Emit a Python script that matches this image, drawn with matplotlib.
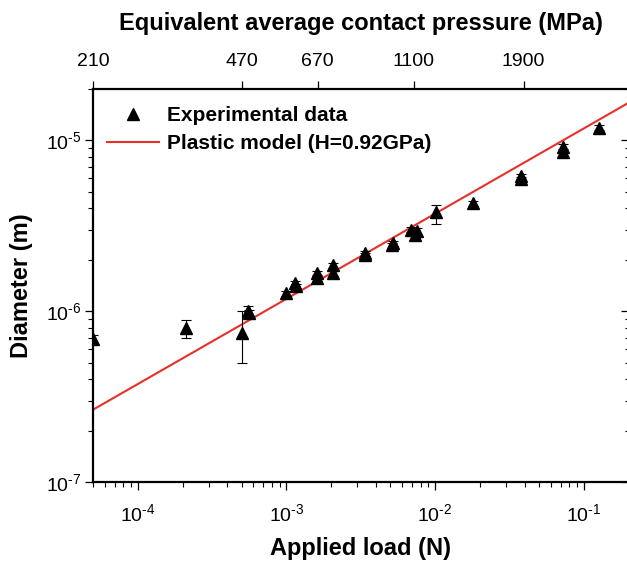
import matplotlib
matplotlib.use("Agg")
import matplotlib.pyplot as plt
from matplotlib.ticker import NullLocator, LogLocator, NullFormatter, FuncFormatter
import numpy as np

plt.rcParams['font.family'] = ['Liberation Sans', 'DejaVu Sans']
plt.rcParams['mathtext.fontset'] = 'custom'
plt.rcParams['mathtext.rm'] = 'Liberation Sans'
plt.rcParams['mathtext.it'] = 'Liberation Sans:italic'
plt.rcParams['mathtext.bf'] = 'Liberation Sans:bold'

load = [5.0e-5, 2.1e-4, 5.0e-4, 5.5e-4, 5.6e-4, 1.0e-3, 1.14e-3, 1.16e-3,
        1.6e-3, 1.6e-3, 2.05e-3, 2.05e-3, 3.37e-3, 3.4e-3, 5.1e-3, 5.2e-3,
        6.85e-3, 7.3e-3, 7.6e-3, 1.01e-2, 1.79e-2, 3.77e-2, 3.8e-2,
        7.2e-2, 7.3e-2, 0.126]
diam = [6.9e-7, 8.0e-7, 7.5e-7, 1.0e-6, 0.97e-6, 1.27e-6, 1.46e-6, 1.40e-6,
        1.67e-6, 1.56e-6, 1.86e-6, 1.67e-6, 2.12e-6, 2.18e-6, 2.43e-6, 2.5e-6,
        3.0e-6, 2.8e-6, 2.95e-6, 3.79e-6, 4.28e-6, 5.92e-6, 6.15e-6,
        8.5e-6, 9.1e-6, 1.19e-5]
err_lo = [0.4e-7, 1.05e-7, 2.5e-7, 0.06e-6, 0.04e-6, 0.05e-6, 0.05e-6, 0.05e-6,
          0.06e-6, 0.06e-6, 0.06e-6, 0.06e-6, 0.08e-6, 0.08e-6, 0.08e-6, 0.08e-6,
          0.1e-6, 0.1e-6, 0.1e-6, 0.57e-6, 0.15e-6, 0.2e-6, 0.2e-6,
          0.4e-6, 0.4e-6, 0.4e-6]
err_hi = [0.4e-7, 0.86e-7, 2.5e-7, 0.07e-6, 0.04e-6, 0.05e-6, 0.05e-6, 0.05e-6,
          0.06e-6, 0.06e-6, 0.06e-6, 0.06e-6, 0.08e-6, 0.08e-6, 0.08e-6, 0.08e-6,
          0.1e-6, 0.1e-6, 0.1e-6, 0.38e-6, 0.15e-6, 0.2e-6, 0.2e-6,
          0.4e-6, 0.4e-6, 0.4e-6]

# plastic model line (H = 0.92 GPa), end points
model_load = [5.0e-5, 0.2]
model_diam = [2.65e-7, 1.66e-5]

# top axis: equivalent average contact pressure
top_loads = [5.0e-5, 5.0e-4, 1.62e-3, 7.2e-3, 3.94e-2]
top_labels = ['210', '470', '670', '1100', '1900']


def pow10(v, pos):
    e = int(round(np.log10(v)))
    sign = r'\text{-}' if e < 0 else ''
    return r'$\mathregular{10^{%s%d}}$' % (sign, abs(e))


W, H_px = 627, 564
fig = plt.figure(figsize=(W / 100, H_px / 100), dpi=100)
ax = fig.add_axes([93 / W, (H_px - 482) / H_px, (628.5 - 93) / W, (482 - 89) / H_px])

ax.set_xscale('log')
ax.set_yscale('log')
ax.set_xlim(5e-5, 0.2)
ax.set_ylim(1e-7, 2e-5)

line, = ax.plot(model_load, model_diam, color='#e6302a', lw=1.5, zorder=2)
ax.errorbar(load, diam, yerr=[err_lo, err_hi], fmt='none', ecolor='black',
            elinewidth=0.8, capsize=3.5, capthick=0.8, zorder=3)
pts, = ax.plot(load, diam, '^', color='black', ms=9, ls='none', zorder=4)

for s in ax.spines.values():
    s.set_linewidth(1.6)

ax.tick_params(axis='both', which='major', direction='out', length=6, width=0.9,
               labelsize=14, top=False, right=False)
ax.tick_params(axis='both', which='minor', direction='out', length=3.5, width=0.8,
               top=False, right=False)
ax.tick_params(axis='x', pad=9)
ax.tick_params(axis='y', pad=2)
ax.xaxis.set_minor_locator(LogLocator(base=10, subs=range(2, 10), numticks=20))
ax.yaxis.set_minor_locator(LogLocator(base=10, subs=range(2, 10), numticks=20))
ax.xaxis.set_major_formatter(FuncFormatter(pow10))
ax.yaxis.set_major_formatter(FuncFormatter(pow10))

ax.set_xlabel('Applied load (N)', fontsize=17, fontweight='bold', labelpad=9)
ax.set_ylabel('Diameter (m)', fontsize=17, fontweight='bold', labelpad=10)

# right side: inward ticks, no labels
ry = ax.secondary_yaxis('right')
ry.tick_params(axis='y', which='major', direction='in', length=6, width=0.9, labelright=False)
ry.tick_params(axis='y', which='minor', direction='in', length=3, width=0.8, labelright=False)
ry.yaxis.set_minor_formatter(NullFormatter())

# top axis with pressure labels
ax2 = ax.twiny()
ax2.set_xscale('log')
ax2.set_xlim(ax.get_xlim())
ax2.set_xticks(top_loads)
ax2.set_xticklabels(top_labels)
ax2.xaxis.set_minor_locator(NullLocator())
ax2.tick_params(axis='x', direction='out', length=6, width=0.9, labelsize=14, pad=8)
ax2.set_xlabel('Equivalent average contact pressure (MPa)', fontsize=17,
               fontweight='bold', labelpad=16)
for s in ax2.spines.values():
    s.set_visible(False)

ax.legend([pts, line], ['Experimental data', 'Plastic model (H=0.92GPa)'],
          loc='upper left', bbox_to_anchor=(107 / W, 1 - 106 / H_px),
          bbox_transform=fig.transFigure, frameon=False, borderpad=0,
          borderaxespad=0, handlelength=2.5, handletextpad=0.4,
          labelspacing=0.45, prop={'size': 15, 'weight': 'bold'})

fig.savefig('out.png', dpi=100)
